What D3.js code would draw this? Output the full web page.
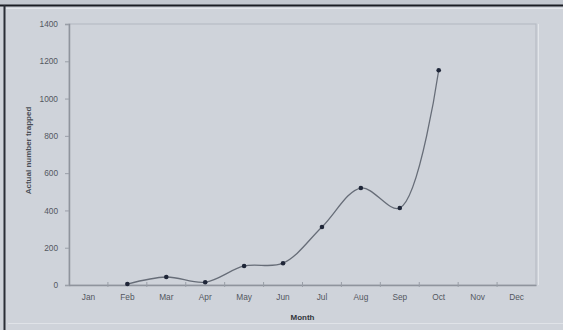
<!DOCTYPE html>
<html><head><meta charset="utf-8">
<script src="https://cdn.jsdelivr.net/npm/d3@7/dist/d3.min.js"></script>
<style>
html,body{margin:0;padding:0;background:#cfd3da;}
svg{display:block;font-family:"Liberation Sans",Arial,sans-serif;}
</style></head>
<body>
<svg id="c" width="563" height="330"></svg>
<script>
const months = ["Jan","Feb","Mar","Apr","May","Jun","Jul","Aug","Sep","Oct","Nov","Dec"];
const dataMonths = ["Feb","Mar","Apr","May","Jun","Jul","Aug","Sep","Oct"];
const trapped = [5, 43, 15, 102, 117, 311, 520, 413, 1152];
const yTicks = [0, 200, 400, 600, 800, 1000, 1200, 1400];

const svg = d3.select("#c");
const W = 563, H = 330;
const m = {l: 69, r: 536, t: 24, b: 285};

// outer frame
svg.append("rect").attr("x",0).attr("y",0).attr("width",W).attr("height",6).attr("fill","#c3c8d0");
svg.append("line").attr("x1",0).attr("x2",W).attr("y1",5.5).attr("y2",5.5).attr("stroke","#1a1d24").attr("stroke-width",2);
svg.append("line").attr("x1",4.5).attr("x2",4.5).attr("y1",5).attr("y2",H).attr("stroke","#2a2e36").attr("stroke-width",2);
svg.append("line").attr("x1",6).attr("x2",W).attr("y1",8.5).attr("y2",8.5).attr("stroke","#e4e7ec").attr("stroke-width",1);
svg.append("line").attr("x1",8).attr("x2",W).attr("y1",323.5).attr("y2",323.5).attr("stroke","#e0e3e8").attr("stroke-width",1);

const x = d3.scaleBand().domain(months).range([m.l, m.r]);
const y = d3.scaleLinear().domain([0,1400]).range([m.b, m.t]);

// plot area border
svg.append("rect").attr("x",m.l).attr("y",m.t).attr("width",m.r-m.l).attr("height",m.b-m.t)
  .attr("fill","none").attr("stroke","#b7bcc5").attr("stroke-width",1.2);
svg.append("line").attr("x1",m.r+2.5).attr("x2",m.r+2.5).attr("y1",m.t).attr("y2",m.b)
  .attr("stroke","#e3e6ea").attr("stroke-width",1);

// Y axis
const yAxis = d3.axisLeft(y).tickValues(yTicks).tickSize(4).tickPadding(7).tickFormat(d3.format("d"));
const gy = svg.append("g").attr("transform",`translate(${m.l},0)`).call(yAxis);
gy.select(".domain").attr("stroke","#8f949d").attr("stroke-width",1.5);
gy.selectAll(".tick line").attr("stroke","#9a9fa8");
gy.selectAll("text").attr("fill","#53575f").attr("font-size",8.3);

// X axis
const xAxis = d3.axisBottom(x).tickSize(0).tickPadding(9);
const gx = svg.append("g").attr("transform",`translate(0,${m.b})`).call(xAxis);
gx.select(".domain").attr("stroke","#8f949d").attr("stroke-width",1.5);
gx.selectAll("text").attr("fill","#53575f").attr("font-size",8.3);
// category boundary ticks
svg.append("g").selectAll("line").data(months.slice(1)).join("line")
  .attr("x1",d=>x(d)).attr("x2",d=>x(d)).attr("y1",m.b-3).attr("y2",m.b+2)
  .attr("stroke","#9a9fa8");

// axis titles
svg.append("text").attr("transform",`translate(31,${(m.t+m.b)/2 - 4}) rotate(-90)`)
  .attr("text-anchor","middle").attr("font-size",8).attr("font-weight","bold").attr("fill","#4a4e56")
  .text("Actual number trapped");
svg.append("text").attr("x",x("Jul")).attr("y",320).attr("text-anchor","middle")
  .attr("font-size",8).attr("font-weight","bold").attr("fill","#33363c").text("Month");

// line
const pts = dataMonths.map((mo,i)=>[x(mo)+x.bandwidth()/2, y(trapped[i])]);
svg.append("path").attr("d", d3.line().curve(d3.curveCatmullRom.alpha(0.5))(pts))
  .attr("fill","none").attr("stroke","#676d78").attr("stroke-width",1.3);
svg.append("g").selectAll("circle").data(pts).join("circle")
  .attr("cx",d=>d[0]).attr("cy",d=>d[1]).attr("r",2.3).attr("fill","#1f2638");
</script>
</body></html>
